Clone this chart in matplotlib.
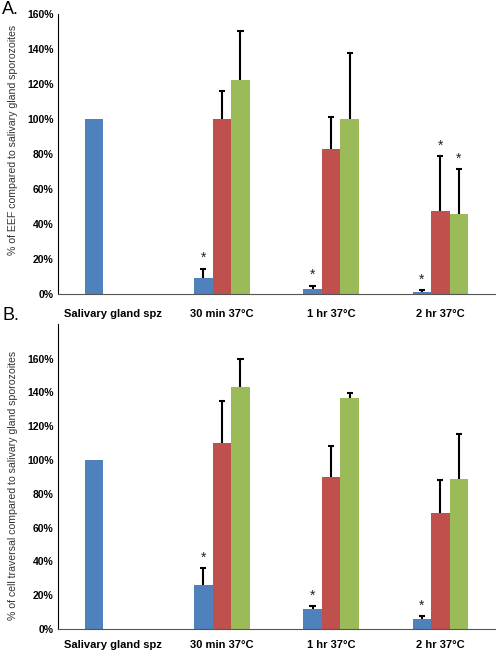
import numpy as np
import matplotlib
matplotlib.use('Agg')
import matplotlib.pyplot as plt

plt.rcParams['font.family'] = ['Liberation Sans', 'DejaVu Sans']

categories = ['Salivary gland spz', '30 min 37°C', '1 hr 37°C', '2 hr 37°C']

# panel A - EEF (red / green only for the 3 time points)
a_blue = [100, 9, 2.8, 1.0]
a_blue_err = [0, 5.5, 2.0, 1.3]
a_red = [99.7, 83, 47.6]
a_red_err = [16, 18, 31.3]
a_green = [122, 100, 45.9]
a_green_err = [28, 37.5, 25.3]
# category index (0..3) of the bars marked with *
a_stars = {'blue': [1, 2, 3], 'red': [3], 'green': [3]}

# panel B - cell traversal
b_blue = [100, 25.9, 11.7, 6.1]
b_blue_err = [0, 10.4, 1.9, 1.6]
b_red = [110.2, 89.7, 68.5]
b_red_err = [24.8, 18.6, 19.6]
b_green = [143.2, 136.7, 88.9]
b_green_err = [16.4, 3.0, 26.8]
b_stars = {'blue': [1, 2, 3], 'red': [], 'green': []}

colors = {'blue': '#4F81BD', 'red': '#C0504D', 'green': '#9BBB59'}
w = 0.17
cap = 0.028

fig = plt.figure(figsize=(5, 6.5), dpi=100)
axA = fig.add_axes([0.116, 0.5477, 0.874, 0.431])
axB = fig.add_axes([0.116, 0.0323, 0.874, 0.4692])


def draw(ax, blue, blue_err, red, red_err, green, green_err, stars, ylab, ytop, xpad, ylab_y):
    x = np.arange(len(categories))
    xt = x[1:]
    series = [('blue', x - w, blue, blue_err, 0),
              ('red', xt, red, red_err, 1),
              ('green', xt + w, green, green_err, 1)]
    for name, xs, vals, errs, off in series:
        ax.bar(xs, vals, width=w, color=colors[name], zorder=2)
        for xx, v, e in zip(xs, vals, errs):
            if e > 0:
                ax.vlines(xx, v, v + e, color='black', lw=1.5, zorder=3)
                ax.hlines(v + e, xx - cap, xx + cap, color='black', lw=1.5, zorder=3)
        for j in stars[name]:
            k = j - off
            ax.text(xs[k], vals[k] + errs[k] + 2, '*', ha='center', va='bottom',
                    fontsize=10, color='#222222')
    ax.set_xlim(-0.5, 3.5)
    ax.set_ylim(0, ytop)
    ax.set_yticks(np.arange(0, 161, 20))
    ax.set_yticklabels([f'{t}%' for t in range(0, 161, 20)], fontsize=7.5,
                       fontweight='bold')
    ax.set_xticks(x)
    ax.set_xticklabels(categories, fontsize=8, fontweight='bold')
    ax.tick_params(axis='both', length=0)
    ax.tick_params(axis='x', pad=xpad)
    ax.tick_params(axis='y', pad=3)
    ax.spines['top'].set_visible(False)
    ax.spines['right'].set_visible(False)
    ax.spines['left'].set_color('black')
    ax.spines['bottom'].set_color('#555555')
    ax.set_ylabel(ylab, fontsize=7.6, color='#333333')
    ax.yaxis.set_label_coords(-0.092, ylab_y)


draw(axA, a_blue, a_blue_err, a_red, a_red_err, a_green, a_green_err, a_stars,
     '% of EEF compared to salivary gland sporozoites', 160, 11, 0.55)
draw(axB, b_blue, b_blue_err, b_red, b_red_err, b_green, b_green_err, b_stars,
     '% of cell traversal compared to salivary gland sporozoites', 180.5, 8, 0.47)

fig.text(0.004, 0.998, 'A.', fontsize=13, va='top', ha='left')
fig.text(0.004, 0.527, 'B.', fontsize=13, va='top', ha='left')

fig.savefig('out.png', dpi=100)
